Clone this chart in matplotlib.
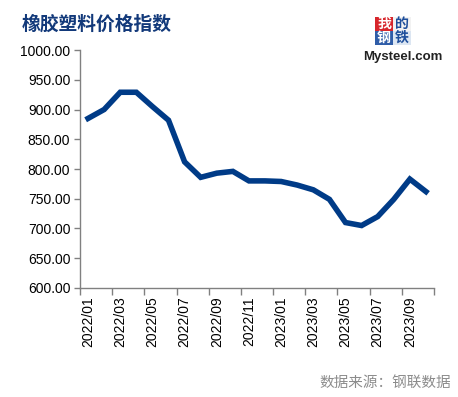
import matplotlib.pyplot as plt
from matplotlib.patches import Rectangle

plt.rcParams['font.family'] = ['Liberation Sans', 'Noto Sans CJK SC', 'DejaVu Sans']

# 月份与指数
months = ['2022/01', '2022/02', '2022/03', '2022/04', '2022/05', '2022/06',
          '2022/07', '2022/08', '2022/09', '2022/10', '2022/11', '2022/12',
          '2023/01', '2023/02', '2023/03', '2023/04', '2023/05', '2023/06',
          '2023/07', '2023/08', '2023/09', '2023/10']
index_values = [885, 900, 929, 929, 905, 882, 812, 786, 793, 796, 780, 780,
                779, 773, 765, 749, 710, 705, 720, 749, 783, 762]
y_ticks = [600, 650, 700, 750, 800, 850, 900, 950, 1000]

fig = plt.figure(figsize=(4.58, 3.97), dpi=100)
ax = fig.add_axes([0.1747, 0.2746, 0.7729, 0.5994])

x = list(range(len(months)))
ax.plot(x, index_values, color='#003b87', linewidth=4, solid_joinstyle='miter')

ax.set_xlim(-0.5, len(months) - 0.5)
ax.set_ylim(600, 1000)

# 刻度线在类别边界, 标签在类别中间
ax.set_xticks([i - 0.5 for i in range(0, len(months) + 1, 2)])
ax.set_xticks(x[::2], minor=True)
ax.set_xticklabels([])
ax.set_xticklabels(months[::2], minor=True, rotation=90, fontsize=10)
ax.tick_params(axis='x', which='major', length=5, color='#808080', width=1)
ax.tick_params(axis='x', which='minor', length=0, pad=6)

ax.set_yticks(y_ticks)
ax.set_yticklabels(['%.2f' % v for v in y_ticks], fontsize=10)
ax.tick_params(axis='y', length=4, color='#808080', width=1, pad=3)

for s in ['top', 'right']:
    ax.spines[s].set_visible(False)
for s in ['left', 'bottom']:
    ax.spines[s].set_color('#808080')
    ax.spines[s].set_linewidth(1)

fig.text(0.048, 0.94, '橡胶塑料价格指数', fontsize=13.5, fontweight='bold',
         color='#12397a', family=['Noto Sans CJK SC'], va='center')

fig.text(0.985, 0.035, '数据来源：钢联数据', fontsize=10.5, color='#8c8c8c',
         family=['Noto Sans CJK SC'], ha='right', va='center')

# logo
blocks = [('我', '#d7262c', 'white'), ('的', '#f2f2f2', '#1e4f9c'),
          ('钢', '#2f5da8', 'white'), ('铁', '#dce6f2', '#1e4f9c')]
w, h = 18 / 458, 14 / 397
x0, y0 = 375 / 458, 1 - 31 / 397
for i, (ch, bg, fg) in enumerate(blocks):
    bx = x0 + (i % 2) * w
    by = y0 - (i // 2) * h
    fig.patches.append(Rectangle((bx, by), w, h, transform=fig.transFigure,
                                 facecolor=bg, edgecolor='none'))
    fig.text(bx + w / 2, by + h / 2, ch, fontsize=10, fontweight='bold',
             color=fg, ha='center', va='center', family=['Noto Sans CJK SC'])
fig.text(403 / 458, 1 - 57 / 397, 'Mysteel.com', fontsize=9.5, fontweight='bold',
         color='#222222', ha='center', va='center')

fig.savefig('out.png', dpi=100)
